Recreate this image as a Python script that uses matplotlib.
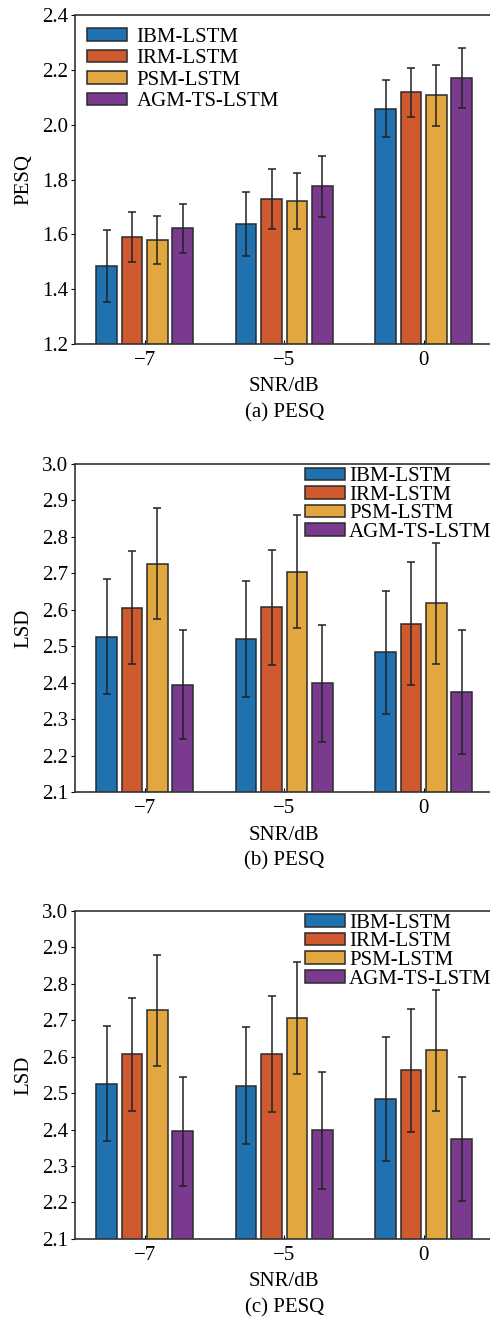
import matplotlib.pyplot as plt
import numpy as np

plt.rcParams['font.family'] = ['Liberation Serif', 'DejaVu Serif']

# data
snr_labels = ['\u22127', '\u22125', '0']
methods = ['IBM-LSTM', 'IRM-LSTM', 'PSM-LSTM', 'AGM-TS-LSTM']
colors = ['#1f71b0', '#cf5a2f', '#e2a73f', '#7a3a8e']

pesq_mean = [
    [1.485, 1.637, 2.059],   # IBM
    [1.590, 1.729, 2.119],   # IRM
    [1.579, 1.723, 2.108],   # PSM
    [1.622, 1.775, 2.170],   # AGM-TS
]
pesq_err = [
    [0.130, 0.117, 0.105],
    [0.092, 0.110, 0.089],
    [0.088, 0.103, 0.111],
    [0.090, 0.110, 0.110],
]

lsd_mean = [
    [2.526, 2.520, 2.483],
    [2.606, 2.607, 2.562],
    [2.727, 2.705, 2.618],
    [2.395, 2.398, 2.374],
]
lsd_err = [
    [0.158, 0.160, 0.170],
    [0.155, 0.158, 0.168],
    [0.152, 0.154, 0.166],
    [0.150, 0.160, 0.170],
]

panels = [
    {'mean': pesq_mean, 'err': pesq_err, 'ylabel': 'PESQ', 'caption': '(a) PESQ',
     'ylim': (1.2, 2.4), 'yticks': np.arange(1.2, 2.41, 0.2), 'legend': 'upper left',
     'rect': [0.153, 0.7392, 0.854, 0.2492]},
    {'mean': lsd_mean, 'err': lsd_err, 'ylabel': 'LSD', 'caption': '(b) PESQ',
     'ylim': (2.1, 3.0), 'yticks': np.arange(2.1, 3.01, 0.1), 'legend': 'upper right',
     'rect': [0.153, 0.3995, 0.854, 0.2487]},
    {'mean': lsd_mean, 'err': lsd_err, 'ylabel': 'LSD', 'caption': '(c) PESQ',
     'ylim': (2.1, 3.0), 'yticks': np.arange(2.1, 3.01, 0.1), 'legend': 'upper right',
     'rect': [0.153, 0.0607, 0.854, 0.2488]},
]

fs = 15
fig = plt.figure(figsize=(4.9, 13.19), dpi=100)
x = np.arange(len(snr_labels))
width = 0.148
step = 0.182

for p in panels:
    ax = fig.add_axes(p['rect'])
    for i, m in enumerate(methods):
        offs = (i - 1.5) * step
        ax.bar(x + offs, p['mean'][i], width, yerr=p['err'][i], color=colors[i],
               edgecolor='#2b2b2b', linewidth=1.1, label=m, capsize=3,
               error_kw=dict(ecolor='#222222', elinewidth=1.1, capthick=1.1), zorder=2)
    ax.set_xlim(-0.5, 2.5)
    ax.set_ylim(*p['ylim'])
    ax.set_yticks(p['yticks'])
    ax.set_yticklabels(['%.1f' % v for v in p['yticks']])
    ax.set_xticks(x)
    ax.set_xticklabels(snr_labels)
    ax.tick_params(axis='x', direction='in', length=3, pad=5, labelsize=fs)
    ax.tick_params(axis='y', direction='out', length=3, pad=2, labelsize=fs)
    for s in ax.spines.values():
        s.set_linewidth(1.2)
        s.set_color('#333333')
    ax.set_ylabel(p['ylabel'], fontsize=fs, labelpad=6)
    ax.annotate('SNR/dB', xy=(0.5, 0), xycoords='axes fraction', xytext=(0, -43 * 0.72),
                textcoords='offset points', ha='center', va='center', fontsize=fs)
    ax.annotate(p['caption'], xy=(0.5, 0), xycoords='axes fraction', xytext=(0, -69 * 0.72),
                textcoords='offset points', ha='center', va='center', fontsize=fs)
    if p['legend'] == 'upper left':
        ax.legend(loc='upper left', frameon=False, fontsize=fs, handlelength=1.9,
                  handleheight=0.55, handletextpad=0.45, labelspacing=0.12,
                  borderaxespad=0.3, borderpad=0.3)
    else:
        ax.legend(loc='upper right', bbox_to_anchor=(1.003, 1.0), frameon=False, fontsize=fs,
                  handlelength=1.9, handleheight=0.55, handletextpad=0.2,
                  labelspacing=-0.02, borderaxespad=0.05, borderpad=0.1)

fig.savefig('out.png', dpi=100)
